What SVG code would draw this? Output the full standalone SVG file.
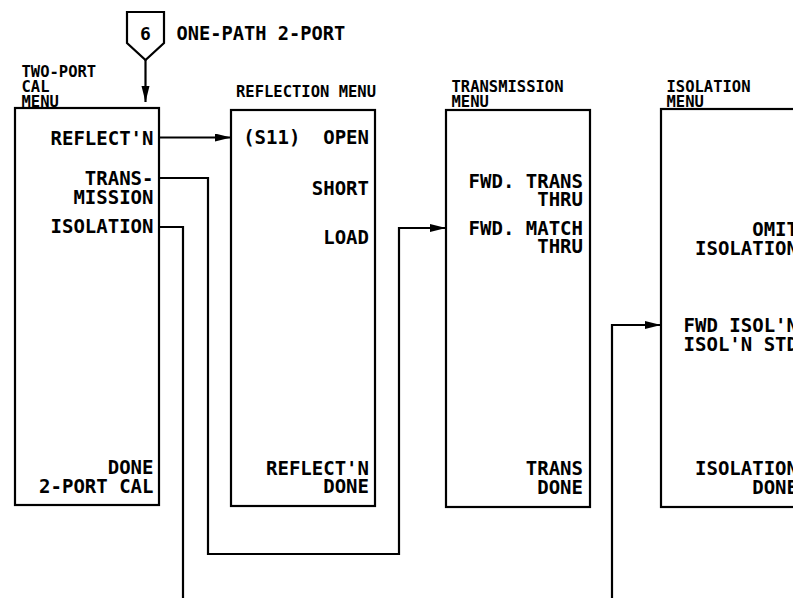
<svg xmlns="http://www.w3.org/2000/svg" width="793" height="598" viewBox="0 0 793 598">
<style>
.box{fill:none;stroke:#000;stroke-width:2.2}
.ln{fill:none;stroke:#000;stroke-width:2.2}
.t{font-family:"DejaVu Sans Mono","Liberation Mono",monospace;font-weight:bold;fill:#000}
.title{font-size:15.5px}
.key{font-size:19px;text-anchor:end}
.pre{white-space:pre}
</style>
<defs>
<marker id="arr" markerUnits="userSpaceOnUse" markerWidth="18" markerHeight="10" refX="16" refY="4" orient="auto">
<path d="M0,0 L16,4 L0,8 Z" fill="#000"/>
</marker>
</defs>
<rect width="793" height="598" fill="#fff"/>

<g id="entry">
<polygon class="box" points="127,12 164,12 164,43 145.5,60 127,43"/>
<text class="t" x="145.5" y="40" font-size="18" text-anchor="middle">6</text>
<text class="t" x="176.5" y="40" font-size="18.7">ONE-PATH 2-PORT</text>
</g>

<g id="two-port-cal-menu">
<text class="t title" x="21.5" y="77">TWO-PORT</text>
<text class="t title" x="21.5" y="92">CAL</text>
<text class="t title" x="21.5" y="107">MENU</text>
<rect class="box" x="15" y="108" width="144" height="397"/>
<text class="t key" x="153.5" y="145">REFLECT'N</text>
<text class="t key" x="153.5" y="185">TRANS-</text>
<text class="t key" x="153.5" y="204">MISSION</text>
<text class="t key" x="153.5" y="233">ISOLATION</text>
<text class="t key" x="153.5" y="474">DONE</text>
<text class="t key" x="153.5" y="493">2-PORT CAL</text>
</g>

<g id="reflection-menu">
<text class="t title" x="236" y="97">REFLECTION MENU</text>
<rect class="box" x="231" y="110" width="144" height="396"/>
<text class="t key pre" x="369" y="144">(S11)  OPEN</text>
<text class="t key" x="369" y="195">SHORT</text>
<text class="t key" x="369" y="244">LOAD</text>
<text class="t key" x="369" y="475">REFLECT'N</text>
<text class="t key" x="369" y="493">DONE</text>
</g>

<g id="transmission-menu">
<text class="t title" x="451.5" y="92">TRANSMISSION</text>
<text class="t title" x="451.5" y="107">MENU</text>
<rect class="box" x="446" y="110" width="144" height="397"/>
<text class="t key" x="583" y="188">FWD. TRANS</text>
<text class="t key" x="583" y="206">THRU</text>
<text class="t key" x="583" y="235">FWD. MATCH</text>
<text class="t key" x="583" y="253">THRU</text>
<text class="t key" x="583" y="475">TRANS</text>
<text class="t key" x="583" y="494">DONE</text>
</g>

<g id="isolation-menu">
<text class="t title" x="666.5" y="92">ISOLATION</text>
<text class="t title" x="666.5" y="107">MENU</text>
<rect class="box" x="661" y="109" width="144" height="398"/>
<text class="t key" x="798" y="236">OMIT</text>
<text class="t key" x="798" y="255">ISOLATION</text>
<text class="t key" x="798" y="332">FWD ISOL'N</text>
<text class="t key" x="798" y="351">ISOL'N STD</text>
<text class="t key" x="798" y="475">ISOLATION</text>
<text class="t key" x="798" y="494">DONE</text>
</g>

<g id="connectors">
<path class="ln" d="M145.5,60 V102" marker-end="url(#arr)"/>
<path class="ln" d="M159,137.5 H231" marker-end="url(#arr)"/>
<path class="ln" d="M159,178 H208 V554 H399 V228 H446" marker-end="url(#arr)"/>
<path class="ln" d="M159,227 H183 V598"/>
<path class="ln" d="M612,598 V325 H661" marker-end="url(#arr)"/>
</g>
</svg>
